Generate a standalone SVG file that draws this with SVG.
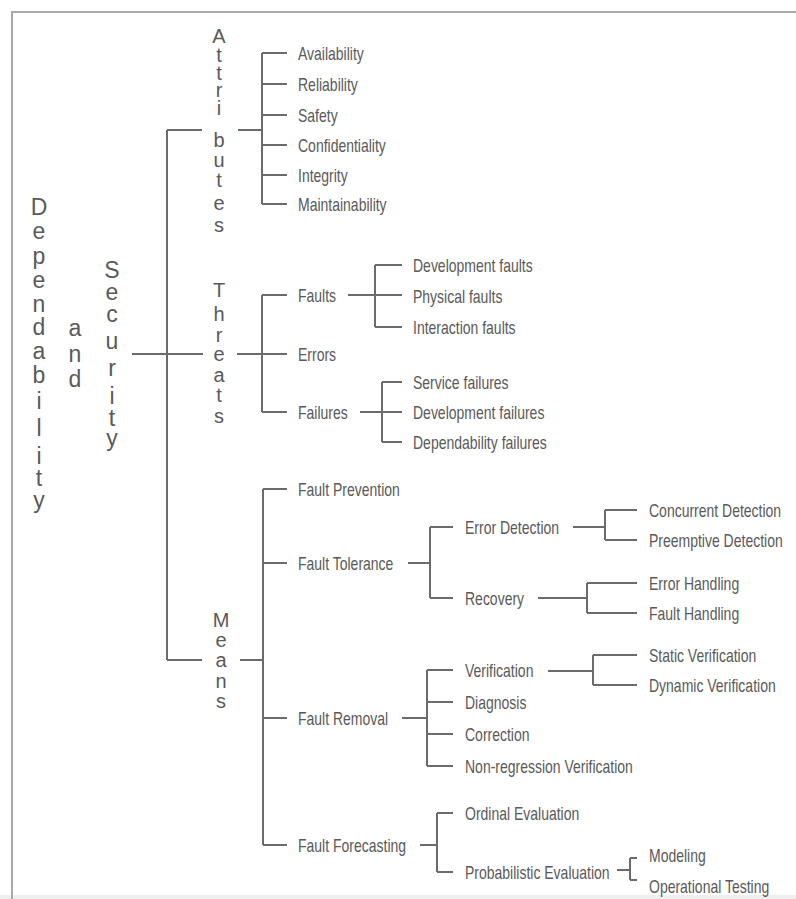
<svg xmlns="http://www.w3.org/2000/svg" width="796" height="899" viewBox="0 0 796 899">
<style>
.t{font-family:"Liberation Sans",Arial,sans-serif;font-size:14px;fill:#5a5a5a}
.v{font-family:"Liberation Sans",Arial,sans-serif;font-size:20px;fill:#5a5a5a;text-anchor:middle}
.vb{font-size:23px}
.c{fill:none;stroke:#6b6b6b;stroke-width:2}
.f{fill:none;stroke:#a8a8a8;stroke-width:2}
</style>
<rect x="0" y="0" width="796" height="899" fill="#ffffff"/>
<rect x="0" y="895" width="796" height="4" fill="#efefef"/>
<path class="f" d="M11,12 H796 M12,12 V899"/>
<g id="connectors">
<path class="c" d="M132,354 H203 M167,130 V660 M167,130 H202 M167,660 H202 M238,130 H262 M237,354 H262 M240,660 H263"/>
<path class="c" d="M262,53 V204 M262,53 H287 M262,84 H287 M262,115 H287 M262,145 H287 M262,175 H287 M262,204 H287"/>
<path class="c" d="M262,295 V412 M262,295 H287 M262,354 H287 M262,412 H287"/>
<path class="c" d="M348,295 H402 M375,265 V327 M375,265 H402 M375,327 H402"/>
<path class="c" d="M360,412 H402 M382,382 V442 M382,382 H402 M382,442 H402"/>
<path class="c" d="M263,489 V845 M263,489 H287 M263,563 H287 M263,718 H287 M263,845 H287"/>
<path class="c" d="M408,563 H430 M430,527 V598 M430,527 H453 M430,598 H453"/>
<path class="c" d="M573,527 H605 M605,510 V540 M605,510 H637 M605,540 H637"/>
<path class="c" d="M538,598 H587 M587,583 V613 M587,583 H637 M587,613 H637"/>
<path class="c" d="M402,718 H427 M427,670 V766 M427,670 H453 M427,702 H453 M427,734 H453 M427,766 H453"/>
<path class="c" d="M548,671 H593 M593,655 V685 M593,655 H637 M593,685 H637"/>
<path class="c" d="M420,845 H437 M437,813 V872 M437,813 H453 M437,872 H453"/>
<path class="c" d="M617,870 H630 M630,858 V880 M630,858 H637 M630,880 H637"/>
</g>
<g id="dependability">
<text class="v vb"><tspan x="39" y="215">D</tspan><tspan x="39" y="239">e</tspan><tspan x="39" y="264">p</tspan><tspan x="39" y="288">e</tspan><tspan x="39" y="312">n</tspan><tspan x="39" y="335">d</tspan><tspan x="39" y="359">a</tspan><tspan x="39" y="383">b</tspan><tspan x="39" y="409">i</tspan><tspan x="39" y="436">l</tspan><tspan x="39" y="464">i</tspan><tspan x="39" y="486">t</tspan><tspan x="39" y="508">y</tspan></text>
</g>
<g id="and">
<text class="v vb"><tspan x="75" y="336">a</tspan><tspan x="75" y="362">n</tspan><tspan x="75" y="387">d</tspan></text>
</g>
<g id="security">
<text class="v vb"><tspan x="112" y="278">S</tspan><tspan x="112" y="300">e</tspan><tspan x="112" y="322">c</tspan><tspan x="112" y="349">u</tspan><tspan x="112" y="376">r</tspan><tspan x="112" y="404">i</tspan><tspan x="112" y="426">t</tspan><tspan x="112" y="446">y</tspan></text>
</g>
<g id="attributes">
<text class="v"><tspan x="219" y="43">A</tspan><tspan x="219" y="62">t</tspan><tspan x="219" y="80">t</tspan><tspan x="219" y="97">r</tspan><tspan x="219" y="115">i</tspan><tspan x="219" y="147">b</tspan><tspan x="219" y="167">u</tspan><tspan x="219" y="187">t</tspan><tspan x="219" y="210">e</tspan><tspan x="219" y="232">s</tspan></text>
</g>
<g id="threats">
<text class="v"><tspan x="219" y="297">T</tspan><tspan x="219" y="321">h</tspan><tspan x="219" y="342">r</tspan><tspan x="219" y="361">e</tspan><tspan x="219" y="382">a</tspan><tspan x="219" y="402">t</tspan><tspan x="219" y="423">s</tspan></text>
</g>
<g id="means">
<text class="v"><tspan x="221" y="627">M</tspan><tspan x="221" y="647">e</tspan><tspan x="221" y="667">a</tspan><tspan x="221" y="688">n</tspan><tspan x="221" y="708">s</tspan></text>
</g>
<g id="availability"><text class="t" transform="translate(298,59.5) scale(1,1.28)">Availability</text></g>
<g id="reliability"><text class="t" transform="translate(298,90.5) scale(1,1.28)">Reliability</text></g>
<g id="safety"><text class="t" transform="translate(298,121.5) scale(1,1.28)">Safety</text></g>
<g id="confidentiality"><text class="t" transform="translate(298,151.5) scale(1,1.28)">Confidentiality</text></g>
<g id="integrity"><text class="t" transform="translate(298,181.5) scale(1,1.28)">Integrity</text></g>
<g id="maintainability"><text class="t" transform="translate(298,210.5) scale(1,1.28)">Maintainability</text></g>
<g id="faults"><text class="t" transform="translate(298,301.5) scale(1,1.28)">Faults</text></g>
<g id="errors"><text class="t" transform="translate(298,360.5) scale(1,1.28)">Errors</text></g>
<g id="failures"><text class="t" transform="translate(298,418.5) scale(1,1.28)">Failures</text></g>
<g id="development-faults"><text class="t" transform="translate(413,271.5) scale(1,1.28)">Development faults</text></g>
<g id="physical-faults"><text class="t" transform="translate(413,302.5) scale(1,1.28)">Physical faults</text></g>
<g id="interaction-faults"><text class="t" transform="translate(413,333.5) scale(1,1.28)">Interaction faults</text></g>
<g id="service-failures"><text class="t" transform="translate(413,388.5) scale(1,1.28)">Service failures</text></g>
<g id="development-failures"><text class="t" transform="translate(413,418.5) scale(1,1.28)">Development failures</text></g>
<g id="dependability-failures"><text class="t" transform="translate(413,448.5) scale(1,1.28)">Dependability failures</text></g>
<g id="fault-prevention"><text class="t" transform="translate(298,495.5) scale(1,1.28)">Fault Prevention</text></g>
<g id="fault-tolerance"><text class="t" transform="translate(298,569.5) scale(1,1.28)">Fault Tolerance</text></g>
<g id="fault-removal"><text class="t" transform="translate(298,724.5) scale(1,1.28)">Fault Removal</text></g>
<g id="fault-forecasting"><text class="t" transform="translate(298,851.5) scale(1,1.28)">Fault Forecasting</text></g>
<g id="error-detection"><text class="t" transform="translate(465,533.5) scale(1,1.28)">Error Detection</text></g>
<g id="recovery"><text class="t" transform="translate(465,604.5) scale(1,1.28)">Recovery</text></g>
<g id="concurrent-detection"><text class="t" transform="translate(649,516.5) scale(1,1.28)">Concurrent Detection</text></g>
<g id="preemptive-detection"><text class="t" transform="translate(649,546.5) scale(1,1.28)">Preemptive Detection</text></g>
<g id="error-handling"><text class="t" transform="translate(649,589.5) scale(1,1.28)">Error Handling</text></g>
<g id="fault-handling"><text class="t" transform="translate(649,619.5) scale(1,1.28)">Fault Handling</text></g>
<g id="verification"><text class="t" transform="translate(465,676.5) scale(1,1.28)">Verification</text></g>
<g id="diagnosis"><text class="t" transform="translate(465,708.5) scale(1,1.28)">Diagnosis</text></g>
<g id="correction"><text class="t" transform="translate(465,740.5) scale(1,1.28)">Correction</text></g>
<g id="non-regression-verification"><text class="t" transform="translate(465,772.5) scale(1,1.28)">Non-regression Verification</text></g>
<g id="static-verification"><text class="t" transform="translate(649,661.5) scale(1,1.28)">Static Verification</text></g>
<g id="dynamic-verification"><text class="t" transform="translate(649,691.5) scale(1,1.28)">Dynamic Verification</text></g>
<g id="ordinal-evaluation"><text class="t" transform="translate(465,819.5) scale(1,1.28)">Ordinal Evaluation</text></g>
<g id="probabilistic-evaluation"><text class="t" transform="translate(465,878.5) scale(1,1.28)">Probabilistic Evaluation</text></g>
<g id="modeling"><text class="t" transform="translate(649,862) scale(1,1.28)">Modeling</text></g>
<g id="operational-testing"><text class="t" transform="translate(649,893) scale(1,1.28)">Operational Testing</text></g>
</svg>
